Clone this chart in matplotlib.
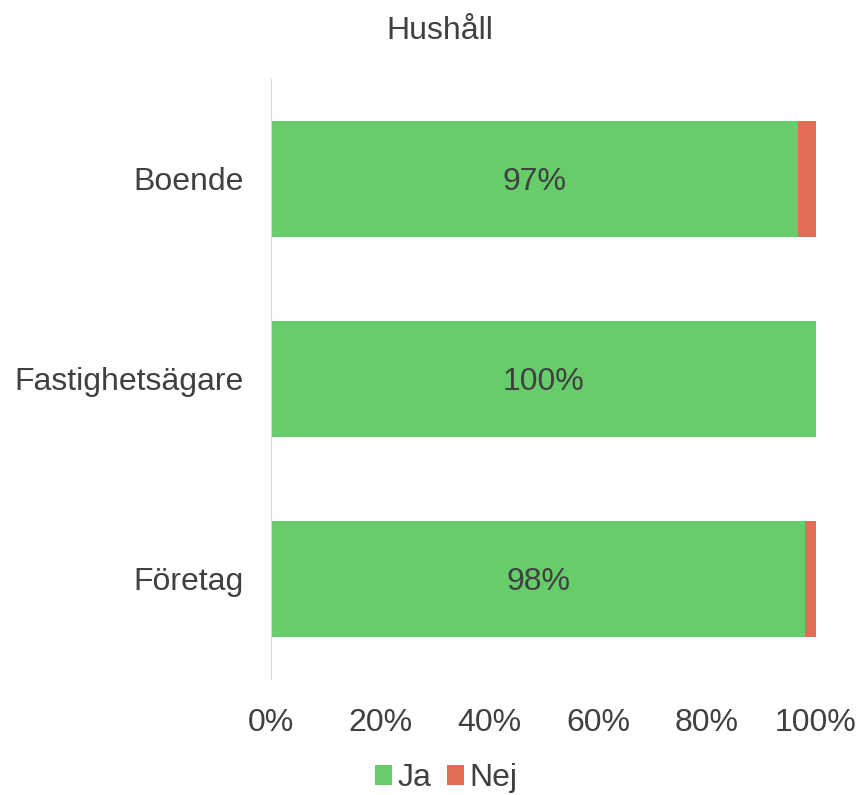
import matplotlib.pyplot as plt

plt.rcParams['font.family'] = ['Liberation Sans', 'DejaVu Sans']

categories = ['Boende', 'Fastighetsägare', 'Företag']
ja = [96.7, 100.0, 98.0]
nej = [3.3, 0.0, 2.0]
ja_labels = ['97%', '100%', '98%']
xticks = [0, 20, 40, 60, 80, 100]

green = '#66CD6A'
red = '#E06D55'
txt = '#404040'
fs = 23

fig = plt.figure(figsize=(8.61, 7.95), dpi=100)
ax = fig.add_axes([0.3148, 0.1465, 0.6329, 0.7547])

y = list(range(len(categories)))
b1 = ax.barh(y, ja, height=0.58, color=green, label='Ja')
b2 = ax.barh(y, nej, left=ja, height=0.58, color=red, label='Nej')

for yi, v, lab in zip(y, ja, ja_labels):
    ax.text(v / 2, yi + 0.015, lab, ha='center', va='center', fontsize=fs, color=txt)

ax.set_xlim(0, 100)
ax.set_ylim(2.5, -0.5)
ax.set_yticks(y)
ax.set_yticklabels(categories, fontsize=fs, color=txt)
ax.set_xticks(xticks)
ax.set_xticklabels([f'{t}%' for t in xticks], fontsize=fs, color=txt)
ax.tick_params(length=0)
ax.tick_params(axis='y', pad=20)
ax.tick_params(axis='x', pad=21)

for s in ['top', 'right', 'bottom']:
    ax.spines[s].set_visible(False)
ax.spines['left'].set_color('#D9D9D9')

fig.text(0.511, 0.961, 'Hushåll', ha='center', va='center', fontsize=fs, color=txt)

fig.legend(handles=[b1, b2], loc='center', bbox_to_anchor=(0.518, 0.021), ncol=2, frameon=False,
           fontsize=fs, handlelength=0.55, handleheight=0.55, handletextpad=0.15, columnspacing=0.5,
           labelcolor=txt)

fig.savefig('out.png', dpi=100)
